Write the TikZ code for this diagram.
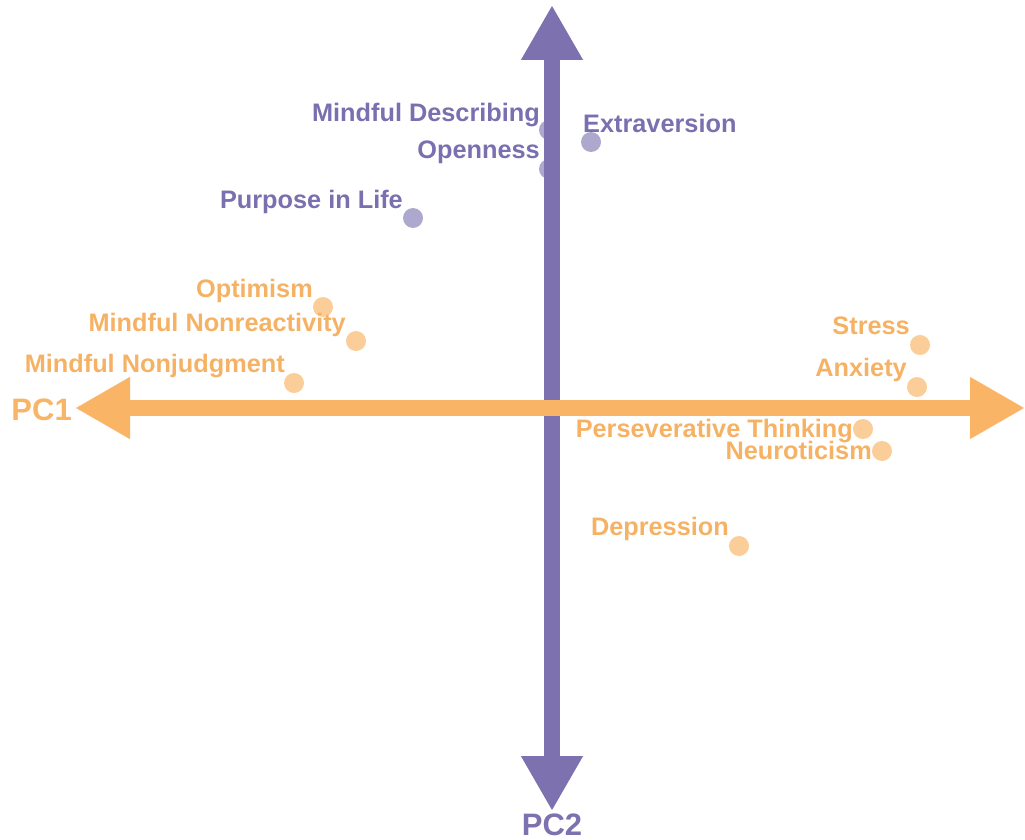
\documentclass[tikz,border=0pt]{standalone}
\usepackage{fontspec}
\setmainfont{Liberation Sans}
\usetikzlibrary{arrows.meta}
\usetikzlibrary{positioning}
\definecolor{pcpurple}{HTML}{7D71AF}
\definecolor{pcorange}{HTML}{F9B466}
\definecolor{txpurple}{HTML}{7A6FAF}
\definecolor{txorange}{HTML}{F6B264}
\definecolor{dtpurple}{HTML}{ADA8CD}
\definecolor{dtorange}{HTML}{FBCD98}
\tikzset{
  ax/.style={line width=16pt, -{Triangle[length=55pt, width=58pt]}},
  dp/.style={circle, inner sep=0pt, minimum size=20pt, fill=dtpurple},
  do/.style={circle, inner sep=0pt, minimum size=20pt, fill=dtorange},
  lb/.style={inner sep=0pt, anchor=base east, xshift=-10pt, yshift=10pt,
    font=\fontsize{25.3}{30}\selectfont\bfseries},
  lbd/.style={yshift=-18pt},
  lp/.style={lb, text=txpurple},
  lo/.style={lb, text=txorange},
  pc/.style={inner sep=0pt, font=\fontsize{31}{36}\selectfont\bfseries}
}
\begin{document}
\begin{tikzpicture}[x=1pt, y=-1pt]
\useasboundingbox (0,0) rectangle (1025,840);
% loadings
\node[dp] (mdesc) at (549,130) {};
\node[dp] (open) at (549,169) {};
\node[dp] (extra) at (591,142) {};
\node[dp] (purp) at (413,218) {};
\node[do] (optim) at (323,307) {};
\node[do] (nreact) at (356,341) {};
\node[do] (njudg) at (294,383) {};
\node[do] (stress) at (920,345) {};
\node[do] (anx) at (917,387) {};
\node[do] (pers) at (863,429) {};
\node[do] (neuro) at (882,451) {};
\node[do] (depr) at (739,546) {};
% axes
\coordinate (c) at (552,408);
\coordinate (n) at (552,5);
\coordinate (s) at (552,811);
\coordinate (w) at (75,408);
\coordinate (e) at (1025,408);
\draw[ax, pcpurple] (c) -- (n);
\draw[ax, pcpurple] (c) -- (s);
\draw[ax, pcorange] (c) -- (w);
\draw[ax, pcorange] (c) -- (e);
\node[pc, text=pcorange, anchor=base east] (pc1) at (72,420) {PC1};
\node[pc, text=pcpurple, anchor=base] (pc2) at (552,835) {PC2};
% labels
\node[lp, xshift=1pt, yshift=-2pt] at (mdesc) {Mindful Describing};
\node[lp, xshift=1pt, yshift=1pt] at (open) {Openness};
\node[lp, anchor=base west, xshift=2pt] at (extra) {Extraversion};
\node[lp] at (purp) {Purpose in Life};
\node[lo] at (optim) {Optimism};
\node[lo] at (nreact) {Mindful Nonreactivity};
\node[lo, xshift=1pt, yshift=1pt] at (njudg) {Mindful Nonjudgment};
\node[lo, yshift=1pt] at (stress) {Stress};
\node[lo, yshift=1pt] at (anx) {Anxiety};
\node[lo, lbd] at (pers) {Perseverative Thinking};
\node[lo, lbd] at (neuro) {Neuroticism};
\node[lo, yshift=1pt] at (depr) {Depression};
\end{tikzpicture}
\end{document}
